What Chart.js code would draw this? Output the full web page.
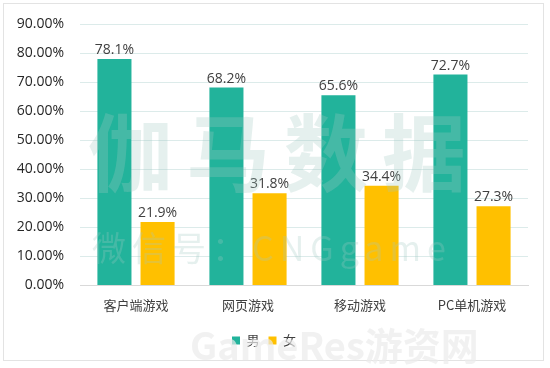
<!DOCTYPE html>
<html>
<head>
<meta charset="utf-8">
<script src="https://cdn.jsdelivr.net/npm/chart.js@4.4.1/dist/chart.umd.min.js"></script>
<style>
    html, body { margin: 0; padding: 0; background: #fff; }
    #wrap { position: relative; width: 550px; height: 368px; }
    #frame { position: absolute; left: 3px; top: 3px; width: 541px; height: 358px; border: 1px solid #e3e3e3; box-sizing: border-box; pointer-events: none; }
    .wm { position: absolute; white-space: nowrap; pointer-events: none; font-family: "Noto Sans CJK SC", sans-serif; }
    #wm1 { left: 88px; top: 88px; font-size: 84px; font-weight: 700; letter-spacing: 14px; color: rgba(160, 200, 195, 0.28); }
    #wm2 { left: 92px; top: 222px; font-size: 34px; letter-spacing: 6px; color: rgba(160, 200, 195, 0.28); }
    #wm3 { left: 190px; top: 316px; font-size: 38px; font-weight: 700; color: rgba(235, 235, 235, 0.7); }
</style>
</head>
<body>
<div id="wrap">
    <canvas id="genderChart" width="550" height="368"></canvas>
    <div id="frame"></div>
    <div class="wm" id="wm1">伽马数据</div>
    <div class="wm" id="wm2">微信号：CNGgame</div>
    <div class="wm" id="wm3">GameRes游资网</div>
</div>
<script>
const categories = ['客户端游戏', '网页游戏', '移动游戏', 'PC单机游戏'];
const male = [78.1, 68.2, 65.6, 72.7];
const female = [21.9, 31.8, 34.4, 27.3];
const yTicks = [0, 10, 20, 30, 40, 50, 60, 70, 80, 90];

const barLabels = {
    id: 'barLabels',
    afterDatasetsDraw(chart) {
        const c = chart.ctx;
        c.save();
        c.font = '14px "Open Sans", sans-serif';
        c.fillStyle = '#404040';
        c.textAlign = 'center';
        c.textBaseline = 'bottom';
        chart.data.datasets.forEach((ds, i) => {
            chart.getDatasetMeta(i).data.forEach((bar, j) => {
                c.fillText(ds.data[j].toFixed(1) + '%', bar.x, bar.y - 2);
            });
        });
        c.restore();
    }
};

const ctx = document.getElementById('genderChart');

new Chart(ctx, {
    type: 'bar',
    data: {
        labels: categories,
        datasets: [{
            label: '男',
            data: male,
            backgroundColor: '#22b39b'
        }, {
            label: '女',
            data: female,
            backgroundColor: '#ffc000'
        }]
    },
    options: {
        responsive: false,
        animation: false,
        categoryPercentage: 0.77,
        barPercentage: 0.79,
        layout: {
            padding: { left: 0, right: 22, top: 14, bottom: 11 }
        },
        scales: {
            x: {
                afterFit: s => { s.height += 8; },
                grid: { display: false },
                border: { color: '#d9d9d9' },
                ticks: {
                    color: '#404040',
                    font: { family: '"Noto Sans CJK SC", sans-serif', size: 13 },
                    padding: 4
                }
            },
            y: {
                min: 0,
                max: 90,
                afterFit: s => { s.width = 80; },
                afterBuildTicks: s => { s.ticks = yTicks.map(v => ({ value: v })); },
                grid: { color: '#dcebea', drawTicks: false },
                border: { display: false },
                ticks: {
                    color: '#262626',
                    padding: 16,
                    font: { family: '"Open Sans", sans-serif', size: 14 },
                    callback: v => v.toFixed(2) + '%'
                }
            }
        },
        plugins: {
            legend: {
                position: 'bottom',
                labels: {
                    usePointStyle: true,
                    pointStyle: 'rect',
                    boxWidth: 8,
                    boxHeight: 8,
                    color: '#404040',
                    font: { family: '"Noto Sans CJK SC", sans-serif', size: 13 },
                    padding: 9
                }
            },
            tooltip: { enabled: false }
        }
    },
    plugins: [barLabels]
});
</script>
</body>
</html>
